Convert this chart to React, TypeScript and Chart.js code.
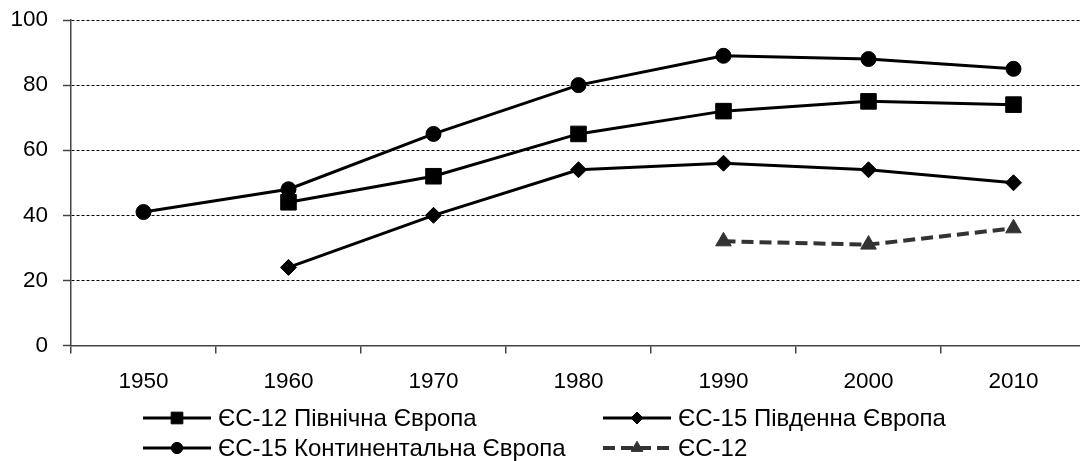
import React, { useEffect, useRef } from 'react';
import { Chart, registerables } from 'chart.js';
import { drawPoint } from 'chart.js/helpers';

Chart.register(...registerables);

const years = ['1950', '1960', '1970', '1980', '1990', '2000', '2010'];
const northEurope = [null, 44, 52, 65, 72, 75, 74];
const southEurope = [null, 24, 40, 54, 56, 54, 50];
const continentalEurope = [41, 48, 65, 80, 89, 88, 85];
const eu12 = [null, null, null, null, 32, 31, 36];
const seriesNames = [
  'ЄС-12 Північна Європа',
  'ЄС-15 Південна Європа',
  'ЄС-15 Континентальна Європа',
  'ЄС-12',
];
const yMin = 0;
const yMax = 100;
const yStep = 20;

const FONT = '"Liberation Sans", Arial, sans-serif';
const CANVAS_W = 1098;

const legendPlugin = {
  id: 'gridLegend',
  afterDraw(chart: any) {
    const ctx = chart.ctx as CanvasRenderingContext2D;
    const slots = [
      { x: 143, y: 418 },
      { x: 603, y: 418 },
      { x: 143, y: 448 },
      { x: 603, y: 448 },
    ];
    chart.data.datasets.forEach((ds: any, i: number) => {
      const s = slots[i];
      const lineLen = 68;
      ctx.save();
      ctx.strokeStyle = ds.borderColor;
      ctx.lineWidth = ds.borderWidth;
      ctx.setLineDash(ds.borderDash || []);
      ctx.beginPath();
      ctx.moveTo(s.x, s.y);
      ctx.lineTo(s.x + lineLen, s.y);
      ctx.stroke();
      ctx.setLineDash([]);
      ctx.fillStyle = ds.pointBackgroundColor;
      ctx.strokeStyle = ds.pointBorderColor;
      ctx.lineWidth = 1;
      drawPoint(ctx, { pointStyle: ds.pointStyle, radius: ds.pointRadius * 0.75, borderWidth: 1, rotation: 0 }, s.x + lineLen / 2, s.y);
      ctx.fillStyle = '#000';
      ctx.font = `24px ${FONT}`;
      ctx.textBaseline = 'middle';
      ctx.textAlign = 'left';
      ctx.fillText(ds.label, s.x + lineLen + 7, s.y + 1);
      ctx.restore();
    });
  },
};

export default function App() {
  const ref = useRef<HTMLCanvasElement | null>(null);

  useEffect(() => {
    document.body.style.overflow = 'hidden';
    const canvas = ref.current;
    if (!canvas) return;
    Chart.defaults.font.family = FONT;
    const mk = (label: string, data: any[], style: string, radius: number, color: string, width: number, dash: number[] = []) => ({
      label,
      data,
      borderColor: color,
      backgroundColor: color,
      borderWidth: width,
      borderDash: dash,
      pointStyle: style,
      pointRadius: radius,
      pointHoverRadius: radius,
      pointBackgroundColor: color,
      pointBorderColor: color,
      pointBorderWidth: 1,
      tension: 0,
      spanGaps: false,
    });
    const chart = new Chart(canvas, {
      type: 'line',
      data: {
        labels: years,
        datasets: [
          mk(seriesNames[0], northEurope, 'rect', 11, '#000', 3),
          mk(seriesNames[1], southEurope, 'rectRot', 8, '#000', 3),
          mk(seriesNames[2], continentalEurope, 'circle', 7.5, '#000', 3),
          mk(seriesNames[3], eu12, 'triangle', 9, '#333', 4, [12, 6]),
        ],
      },
      options: {
        responsive: false,
        animation: false,
        layout: { padding: { top: 20, left: 0, right: 0, bottom: 0 } },
        plugins: {
          legend: { display: false },
          tooltip: { enabled: false },
        },
        scales: {
          x: {
            offset: true,
            grid: {
              offset: true,
              drawOnChartArea: false,
              drawTicks: true,
              tickLength: 8,
              color: '#444',
              tickColor: '#444',
              lineWidth: 1.5,
            },
            border: { color: '#444', width: 1.5 },
            ticks: { font: { size: 22.5, family: FONT }, color: '#000', padding: 15, maxRotation: 0, autoSkip: false },
            afterFit: (scale: any) => {
              scale.height = 115.5;
            },
          },
          y: {
            min: yMin,
            max: yMax,
            grid: {
              color: (c: any) => (c.tick && c.tick.value === 0 ? 'rgba(0,0,0,0)' : '#000'),
              lineWidth: 1,
              tickLength: 8,
              tickColor: '#444',
              tickWidth: 1.5,
            },
            border: { color: '#444', width: 1.5, dash: [3, 2] },
            ticks: { stepSize: yStep, font: { size: 22.5, family: FONT }, color: '#000', padding: 15 },
            afterFit: (scale: any) => {
              scale.width = 71;
              scale.paddingTop = 0;
              scale.paddingBottom = 0;
            },
          },
        },
      },
      plugins: [legendPlugin],
    } as any);
    return () => chart.destroy();
  }, []);

  return (
    <div style={{ position: 'fixed', left: 0, top: 0, width: CANVAS_W, height: 461, background: '#fff' }}>
      <canvas ref={ref} width={CANVAS_W} height={461} style={{ width: CANVAS_W, height: 461, display: 'block' }} />
    </div>
  );
}
